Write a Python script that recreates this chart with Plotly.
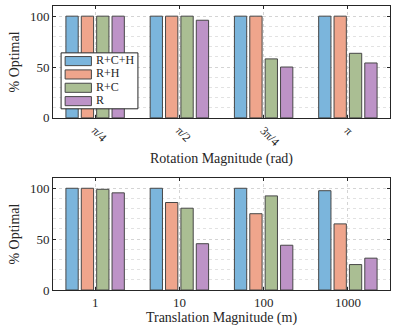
import plotly.graph_objects as go
from plotly.subplots import make_subplots

# categorias
rot_labels = ["π/4", "π/2", "3π/4", "π"]
trans_labels = ["1", "10", "100", "1000"]
series = ["R+C+H", "R+H", "R+C", "R"]

# % optimo - rotacao
rot_rch = [100, 100, 100, 100]
rot_rh = [100, 100, 100, 100]
rot_rc = [100, 100, 58, 63.5]
rot_r = [100, 96, 50, 54]

# % optimo - translacao
tr_rch = [100, 100, 100, 97.6]
tr_rh = [100, 86, 75, 65]
tr_rc = [99, 80.4, 92.5, 25]
tr_r = [95.5, 45.5, 44, 31.3]

cores = ["#7BB5DC", "#EFA58C", "#AABE93", "#BD93C7"]
borda = "#474747"
fonte = "Liberation Serif"
txt = "#262626"

fig = make_subplots(rows=2, cols=1, vertical_spacing=0.21)

rot = [rot_rch, rot_rh, rot_rc, rot_r]
tr = [tr_rch, tr_rh, tr_rc, tr_r]
for nome, cor, v1, v2 in zip(series, cores, rot, tr):
    fig.add_trace(go.Bar(x=rot_labels, y=v1, name=nome, marker_color=cor, showlegend=False,
                         marker_line=dict(color=borda, width=1)), row=1, col=1)
    fig.add_trace(go.Bar(x=trans_labels, y=v2, name=nome, marker_color=cor, showlegend=False,
                         marker_line=dict(color=borda, width=1)), row=2, col=1)

eixo = dict(showline=True, linecolor=txt, linewidth=1, mirror="allticks", automargin=False,
            ticks="inside", ticklen=3, tickcolor=txt,
            tickfont=dict(family=fonte, size=13, color=txt))
fonte_tit = dict(family=fonte, size=14, color=txt)

fig.update_yaxes(**eixo, range=[0, 110], tickvals=[0, 50, 100],
                 showgrid=True, gridcolor="#d4d4d4", griddash="dot", gridwidth=1,
                 minor=dict(dtick=10, tick0=0, showgrid=True, gridcolor="#e2e2e2", griddash="dot", ticks=""),
                 zeroline=False,
                 title=dict(text="% Optimal", font=fonte_tit, standoff=6))
fig.update_xaxes(**eixo, showgrid=True, gridcolor="#d4d4d4", griddash="dot", gridwidth=1)

fig.update_layout(
    width=399, height=330,
    margin=dict(l=53, r=9, t=6, b=40),
    plot_bgcolor="white", paper_bgcolor="white",
    barmode="group", bargap=0.27, bargroupgap=0.2,
    showlegend=False,
    xaxis=dict(tickangle=45, tickfont=dict(family=fonte, size=12, color=txt),
               title=dict(text="Rotation Magnitude (rad)", font=fonte_tit, standoff=5)),
    xaxis2=dict(tickangle=0,
                title=dict(text="Translation Magnitude (m)", font=fonte_tit, standoff=3)),
    yaxis=dict(domain=[0.606, 1]),
    yaxis2=dict(domain=[0, 0.394]),
    font=dict(family=fonte),
)

# legenda desenhada (estilo matlab, amostras largas)
lx0, ly0 = 0.024, 0.835
fig.add_shape(type="rect", xref="paper", yref="paper", x0=lx0, x1=lx0 + 0.228,
              y0=ly0 - 0.197, y1=ly0, fillcolor="white", line=dict(color=txt, width=1), layer="above")
for i, (nome, cor) in enumerate(zip(series, cores)):
    yc = ly0 - 0.029 - i * 0.047
    fig.add_shape(type="rect", xref="paper", yref="paper", x0=lx0 + 0.012, x1=lx0 + 0.09,
                  y0=yc - 0.016, y1=yc + 0.016, fillcolor=cor, line=dict(color=borda, width=1), layer="above")
    fig.add_annotation(xref="paper", yref="paper", x=lx0 + 0.098, y=yc, text=nome, showarrow=False,
                       xanchor="left", yanchor="middle", yshift=1, font=dict(family=fonte, size=12, color=txt))

fig.write_html("out.html", config={"displayModeBar": False},
               post_script="document.body.style.margin='0';")
